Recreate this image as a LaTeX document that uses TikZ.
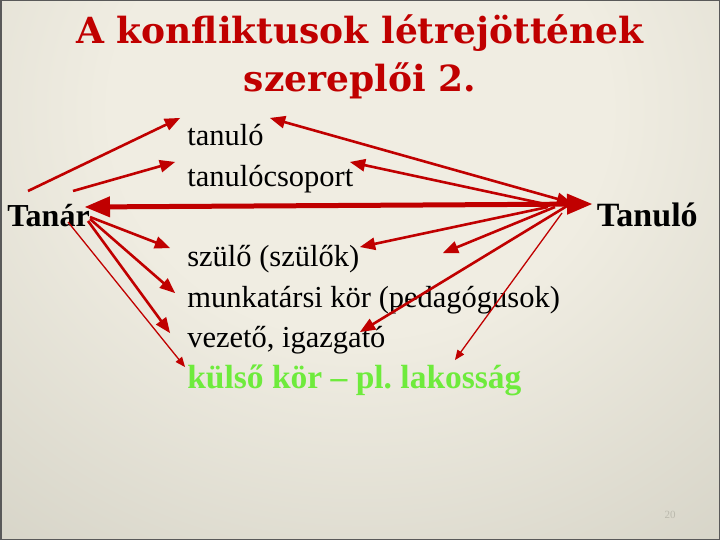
\documentclass[tikz,border=0pt]{standalone}
\usepackage{fontspec}
\setmainfont{Liberation Serif}
\newfontfamily\cimbetu{DejaVu Serif}
\usepackage{pgf,tikz}
\usetikzlibrary{arrows}
\usepackage{tkz-euclide}
\definecolor{piros}{RGB}{192,0,0}
\definecolor{zold}{RGB}{110,235,60}
\definecolor{hatterA}{RGB}{240,237,226}
\definecolor{hatterB}{RGB}{205,203,190}
\definecolor{hatterC}{RGB}{170,168,153}
\definecolor{hatterD}{RGB}{130,128,112}
\pgfdeclareradialshading{hatter}{\pgfpointorigin}{color(0bp)=(hatterA);color(10bp)=(hatterA);color(30bp)=(hatterB);color(40bp)=(hatterC);color(50bp)=(hatterD)}
\tikzset{
  nyil/.style={draw=piros,line width=2.6bp,-triangle 45},
  vekony/.style={draw=piros,line width=1.3bp,-triangle 45},
  nyilak/.style={every edge/.style={nyil}},
  vekonyak/.style={every edge/.style={vekony}},
  szoveg/.style={anchor=base west,inner sep=0pt,font=\fontsize{30.5bp}{36bp}\selectfont},
  kiemelt/.style={szoveg,font=\fontsize{#1}{36bp}\selectfont\bfseries},
  cim/.style={anchor=base,inner sep=0pt,text=piros,font=\cimbetu\bfseries\fontsize{36bp}{40bp}\selectfont}
}

\begin{document}
\begin{tikzpicture}[x=1bp,y=-1bp,semithick]
\useasboundingbox (0,0) rectangle (720,540);
\begin{scope}
\clip (0,0) rectangle (720,540);
\shade[shading=hatter] (360,110) ellipse [x radius=620bp,y radius=560bp];
\end{scope}
\draw[line width=1.5bp,black!65] (0.75,0.75) rectangle (719.25,539.25);
\tkzDefPoints{28/191/A1,73/191/A2,85/207/A0,90/217/A3,90/219/A4,88/221/A5,68/222/A6,
  180/118/B1,175/162/B2,170/248/B3,175/293/B4,170/333/B5,185/367/B6,
  592/204/C0,572/203/C1,545/204/C2,548/207/C3,555/207/C4,567/206/C5,562/213/C6,
  270/118/D1,350/162/D2,360/247/D3,443/253/D4,360/332/D5,455/360/D6}
\node[cim] (cim1) at (360,44) {A konfliktusok létrejöttének};
\node[cim] (cim2) at (360,92) {szereplői 2.};
\node[szoveg] (tanulo) at (187,146) {tanuló};
\node[szoveg] (csoport) at (187,187) {tanulócsoport};
\node[kiemelt=32bp] (tanar) at (7,227) {Tanár};
\node[kiemelt=34bp,anchor=base east] (Tanulo) at (698,227) {Tanuló};
\node[szoveg] (szulo) at (187,267) {szülő (szülők)};
\node[szoveg] (munkatars) at (187,307) {munkatársi kör (pedagógusok)};
\node[szoveg] (vezeto) at (187,347) {vezető, igazgató};
\node[kiemelt=33.5bp,text=zold] (kulso) at (187,388) {külső kör – pl.\ lakosság};
\node[inner sep=0pt,text=hatterC!80!white,font=\fontsize{11bp}{13bp}\selectfont] (oldal) at (670,515) {20};
\draw[piros,line width=5bp,triangle 45-triangle 45] (A0)--(C0);
\path[nyilak] (A1) edge (B1) (A2) edge (B2) (A3) edge (B3) (A4) edge (B4) (A5) edge (B5);
\path[vekonyak] (A6) edge (B6) (C6) edge (D6);
\path[nyilak] (C2) edge (D2) (C3) edge (D3) (C4) edge (D4) (C5) edge (D5);
\draw[nyil,triangle 45-triangle 45] (D1)--(C1);
\end{tikzpicture}
\end{document}
